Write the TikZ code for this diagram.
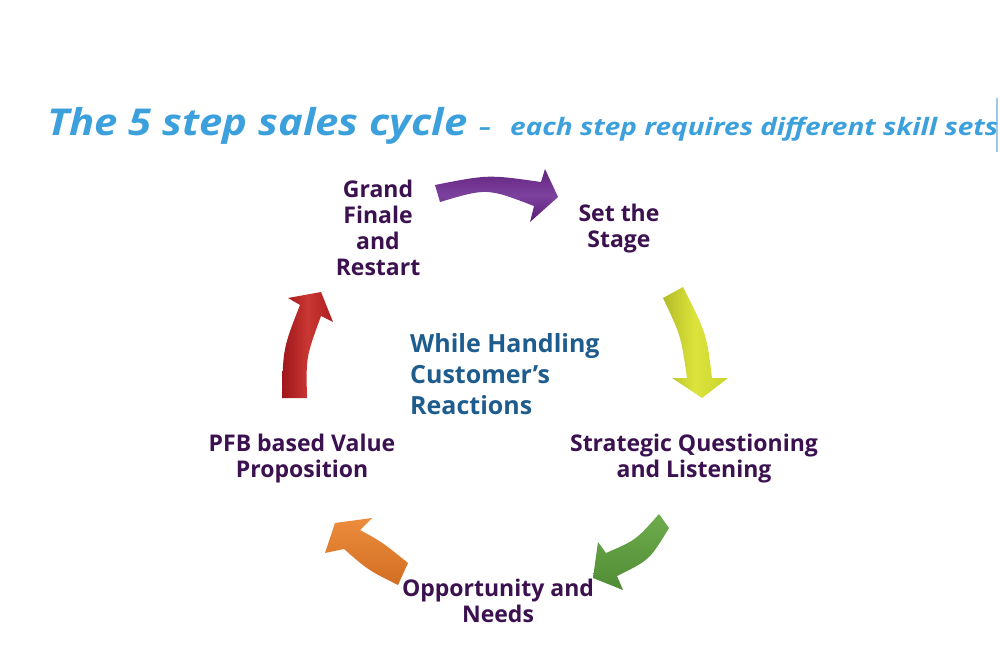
\documentclass[tikz,border=0pt]{standalone}
\usepackage{fontspec}
\setmainfont{Open Sans}
\usetikzlibrary{calc}
\definecolor{titleblue}{HTML}{3CA0DC}
\definecolor{edgeblue}{RGB}{160,200,232}
\definecolor{centerblue}{HTML}{1E5C8E}
\definecolor{labelpurple}{HTML}{3B1150}
\tikzset{
  lbl/.style={text=labelpurple, font=\fontsize{23}{26}\selectfont\bfseries, align=center, inner sep=0pt},
  ttl/.style={anchor=base west, inner sep=0pt, text=titleblue},
  blockarrow/.style={draw=none},
}
\begin{document}
\begin{tikzpicture}[x=1pt,y=-1pt]
\useasboundingbox (0,0) rectangle (1000,652);
\fill[white] (0,0) rectangle (1000,652);
% thin line at right edge
\draw[edgeblue, line width=1.2pt] (997,98) -- (997,152);
% title
\node[ttl, font=\fontsize{37}{40}\selectfont\bfseries\itshape] (title) at (47,136) {\scalebox{1.13}[1]{The 5 step sales cycle}};
\node[ttl, font=\fontsize{24}{28}\selectfont\bfseries\itshape] (dash) at (479,136) {–};
\node[ttl, font=\fontsize{24}{28}\selectfont\bfseries\itshape] (subtitle) at (510,136) {\scalebox{1.166}[1]{each step requires different skill sets}};
% labels
\node[lbl] (grand) at (378,228) {Grand\\Finale\\and\\Restart};
\node[lbl] (stage) at (619,229) {Set the\\Stage};
\node[lbl] (strategic) at (694,459) {Strategic Questioning\\and Listening};
\node[lbl] (opportunity) at (498,601) {Opportunity and\\Needs};
\node[lbl] (pfb) at (302,459) {PFB based Value\\Proposition};
\node[anchor=west, inner sep=0pt, text=centerblue, align=left, font=\fontsize{25}{31}\selectfont\bfseries] (center) at (410,374) {While Handling\\Customer’s\\Reactions};
% purple arrow
\coordinate (pTL) at (435,185); \coordinate (pBL) at (541,182);
\coordinate (pHL) at (545,169); \coordinate (pTip) at (558,197);
\coordinate (pHR) at (530,222); \coordinate (pBR) at (534,206);
\coordinate (pTR) at (440,202);
\shade[blockarrow, top color={rgb,255:red,98;green,38;blue,128}, bottom color={rgb,255:red,88;green,30;blue,118}, middle color={rgb,255:red,125;green,65;blue,158}]
  (pTL) .. controls (488,174.5) .. (pBL) -- (pHL) -- (pTip) -- (pHR) -- (pBR) .. controls (487,188) .. (pTR) -- cycle;
% yellow arrow
\coordinate (yTL) at (663,298); \coordinate (yBL) at (687,378);
\coordinate (yHL) at (672,378); \coordinate (yTip) at (702,398);
\coordinate (yHR) at (728,378); \coordinate (yBR) at (712,378);
\coordinate (yTR) at (683,287);
\shade[blockarrow, left color={rgb,255:red,180;green,188;blue,40}, right color={rgb,255:red,200;green,212;blue,45}, middle color={rgb,255:red,220;green,228;blue,60}]
  (yTL) .. controls (681,336) .. (yBL) -- (yHL) -- (yTip) -- (yHR) -- (yBR) .. controls (706.5,333.5) .. (yTR) -- cycle;
% green arrow
\coordinate (gTL) at (659,514); \coordinate (gBL) at (606,553);
\coordinate (gHL) at (598,542); \coordinate (gTip) at (593,578);
\coordinate (gHR) at (623,590); \coordinate (gBR) at (617,576);
\coordinate (gTR) at (669,528);
\shade[blockarrow, top color={rgb,255:red,110;green,172;blue,78}, bottom color={rgb,255:red,80;green,140;blue,52}]
  (gTL) .. controls (636,540) .. (gBL) -- (gHL) -- (gTip) -- (gHR) -- (gBR) .. controls (649.5,560) .. (gTR) -- cycle;
% orange arrow
\coordinate (oTL) at (408,563); \coordinate (oBL) at (360,530);
\coordinate (oHL) at (372,518); \coordinate (oTip) at (335,523);
\coordinate (oHR) at (325,553); \coordinate (oBR) at (344,549);
\coordinate (oTR) at (398,585);
\shade[blockarrow, top color={rgb,255:red,236;green,140;blue,60}, bottom color={rgb,255:red,210;green,110;blue,35}]
  (oTL) .. controls (382,542) .. (oBL) -- (oHL) -- (oTip) -- (oHR) -- (oBR) .. controls (368,570) .. (oTR) -- cycle;
% red arrow
\coordinate (rTL) at (282,398); \coordinate (rBL) at (300,305);
\coordinate (rHL) at (288,298); \coordinate (rTip) at (321,292);
\coordinate (rHR) at (333,322); \coordinate (rBR) at (321,316);
\coordinate (rTR) at (307,398);
\shade[blockarrow, left color={rgb,255:red,160;green,22;blue,28}, right color={rgb,255:red,175;green,30;blue,32}, middle color={rgb,255:red,200;green,55;blue,50}]
  (rTL) .. controls (283,348.5) .. (rBL) -- (rHL) -- (rTip) -- (rHR) -- (rBR) .. controls (306,357) .. (rTR) -- cycle;
\end{tikzpicture}
\end{document}
